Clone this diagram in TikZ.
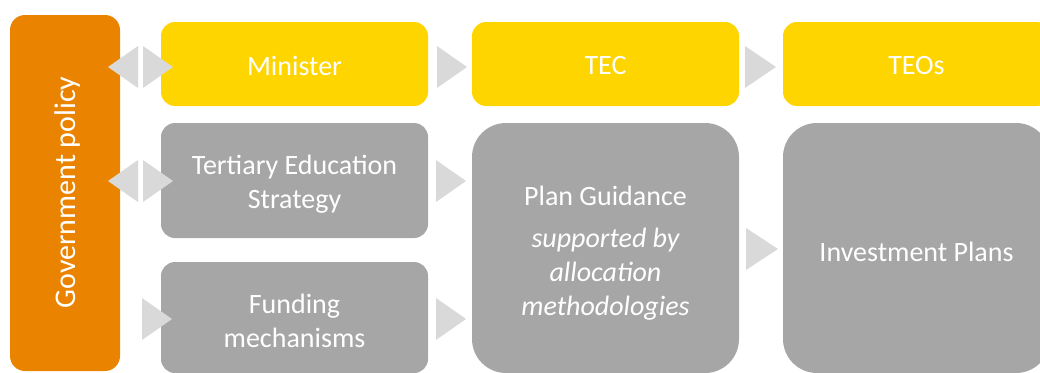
\documentclass[tikz,border=0pt]{standalone}
\usepackage{fontspec}
\setmainfont{Carlito}
\definecolor{orangeP}{RGB}{234,132,0}
\definecolor{yellowP}{RGB}{255,213,0}
\definecolor{grayP}{RGB}{166,166,166}
\definecolor{chevP}{RGB}{217,217,217}
\newcommand{\chevR}[3]{\fill[chevP] (#1,#3-21) -- (#2,#3) -- (#1,#3+21) -- cycle;}
\begin{document}
\begin{tikzpicture}[x=1pt,y=-1pt,
  box/.style={draw=none, inner sep=0pt},
  txt/.style={text=white, align=center, inner sep=0pt, font=\fontsize{28}{34}\selectfont},
  ybox/.style={box, fill=yellowP, rounded corners=14pt, minimum width=267pt, minimum height=84pt},
  gbox/.style={box, fill=grayP, rounded corners=14pt, minimum width=267pt},
  bigbox/.style={box, fill=grayP, rounded corners=34pt, minimum width=267pt, minimum height=250pt},
  obox/.style={box, fill=orangeP, rounded corners=15pt}]
\useasboundingbox (0,0) rectangle (1040,372);
\node[obox, minimum width=110pt, minimum height=356pt] (gov) at (65,193) {};
\node[txt, rotate=90, font=\fontsize{30}{36}\selectfont] (govt) at (68,192.5) {Government policy};
\node[ybox] (min) at (294.5,64) {};
\node[ybox] (tec) at (605.5,64) {};
\node[ybox] (teo) at (916.5,64) {};
\node[gbox, minimum height=115pt] (tes) at (294.5,180.5) {};
\node[gbox, minimum height=111pt] (fund) at (294.5,317.5) {};
\node[bigbox] (plan) at (605.5,248) {};
\node[bigbox] (inv) at (916.5,248) {};
\node[txt] (mint) at ([yshift=-2pt]min.center) {Minister};
\node[txt] (tect) at ([yshift=-2pt]tec.center) {TEC};
\node[txt] (teot) at ([yshift=-2pt]teo.center) {TEOs};
\node[txt] (test) at ([yshift=-4pt]tes.center) {Tertiary Education\\Strategy};
\node[txt] (fundt) at ([yshift=-3pt]fund.center) {Funding\\mechanisms};
\node[txt] (plant) at ([yshift=-5pt]plan.center) {Plan Guidance\\[8pt]\itshape supported by\\\itshape allocation\\\itshape methodologies};
\node[txt] (invt) at ([yshift=-4pt]inv.center) {Investment Plans};
% chevrons
\chevR{138}{108}{67}
\chevR{143}{173}{67}
\chevR{138}{108}{181}
\chevR{143}{173}{181}
\chevR{142}{172}{319}
\chevR{437}{467}{67}
\chevR{436}{466}{181}
\chevR{436}{466}{319}
\chevR{745}{776}{67}
\chevR{746}{778}{249}
\end{tikzpicture}
\end{document}
